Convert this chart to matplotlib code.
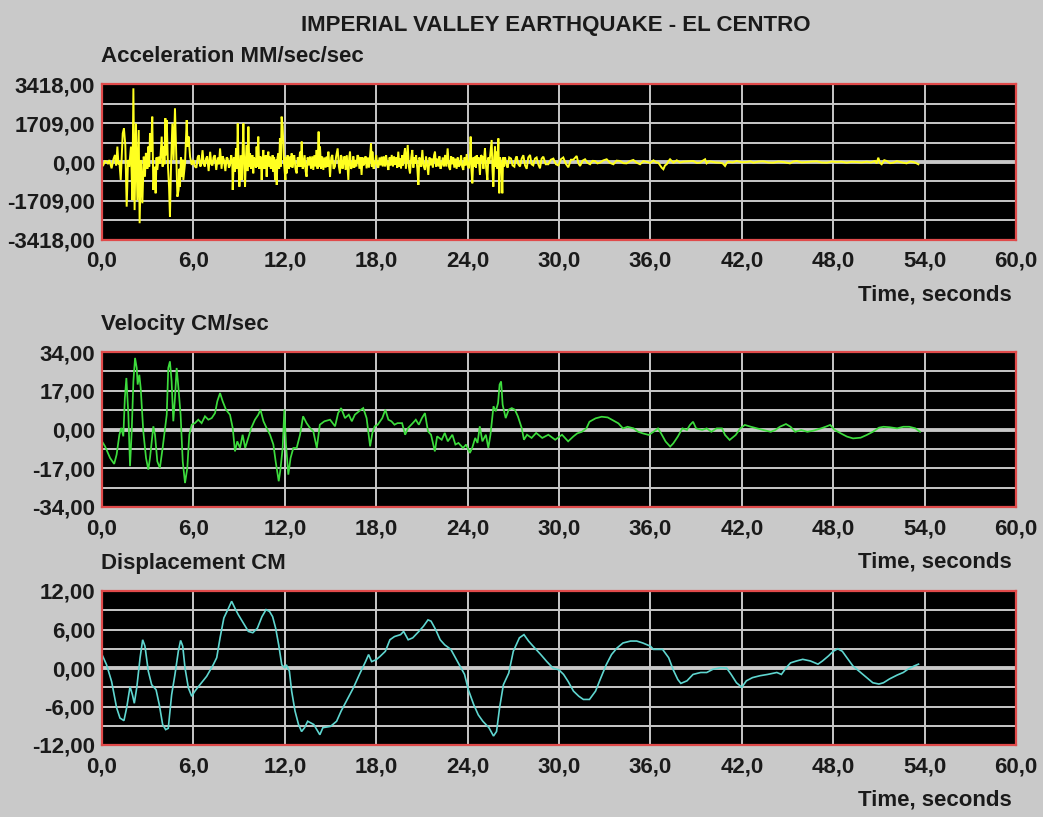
import numpy as np
import matplotlib
matplotlib.use("Agg")
import matplotlib.pyplot as plt
from matplotlib.ticker import FixedLocator

# ---------------- data ----------------
title = "IMPERIAL VALLEY EARTHQUAKE - EL CENTRO"
panel_titles = ["Acceleration MM/sec/sec", "Velocity CM/sec", "Displacement CM"]
x_label = "Time, seconds"
x_ticks = [0, 6, 12, 18, 24, 30, 36, 42, 48, 54, 60]
x_tick_labels = ["0,0", "6,0", "12,0", "18,0", "24,0", "30,0", "36,0", "42,0", "48,0", "54,0", "60,0"]
acc_ticks = [3418, 1709, 0, -1709, -3418]
acc_tick_labels = ["3418,00", "1709,00", "0,00", "-1709,00", "-3418,00"]
vel_ticks = [34, 17, 0, -17, -34]
vel_tick_labels = ["34,00", "17,00", "0,00", "-17,00", "-34,00"]
disp_ticks = [12, 6, 0, -6, -12]
disp_tick_labels = ["12,00", "6,00", "0,00", "-6,00", "-12,00"]

# acceleration, mm/s^2 : (time s, value)
acceleration = [
    (0.00, -60), (0.09, -130), (0.20, 40), (0.31, 15), (0.40, -90), (0.48, 90), (0.63, -280), (0.75, 120),
    (0.85, 310), (0.93, -150), (1.01, 680), (1.08, -100), (1.14, 15), (1.23, -790), (1.36, 1260), (1.44, 1480),
    (1.53, 750), (1.62, -1970), (1.71, 90), (1.79, -205), (1.90, 680), (1.99, -1680), (2.06, 3250), (2.14, -2120),
    (2.23, 1700), (2.32, -1680), (2.41, 1410), (2.47, -2700), (2.56, 90), (2.65, -1820), (2.74, 235), (2.82, -650),
    (2.88, 400), (2.93, 235), (2.98, -300), (3.04, 680), (3.10, -200), (3.15, 1260), (3.22, 455), (3.30, 2000),
    (3.37, -1230), (3.46, -205), (3.52, -1380), (3.58, 200), (3.63, -350), (3.72, 235), (3.81, -60), (3.92, 1120),
    (3.98, -205), (4.05, 680), (4.10, -100), (4.16, 1930), (4.21, 300), (4.25, 1850), (4.33, -205), (4.40, -1090),
    (4.46, -2410), (4.53, -205), (4.62, 1700), (4.70, 90), (4.79, 2370), (4.86, 680), (4.95, -1530), (5.03, -1230),
    (5.08, -300), (5.12, -1090), (5.18, 200), (5.23, -650), (5.30, 100), (5.34, -790), (5.45, -60), (5.56, 1850),
    (5.62, 680), (5.69, 1120), (5.78, 235), (5.89, -130), (6.00, 90), (6.10, -200), (6.20, -250), (6.28, 200),
    (6.35, 300), (6.45, -200), (6.50, -150), (6.60, 520), (6.68, -100), (6.75, -200), (6.83, 150), (6.90, 250),
    (7.00, -400), (7.10, 450), (7.18, -100), (7.25, -150), (7.32, 200), (7.40, 300), (7.50, -350), (7.60, 200),
    (7.68, -100), (7.75, 600), (7.85, -300), (7.92, 250), (8.00, 100), (8.10, -400), (8.18, 200), (8.25, 150),
    (8.33, -250), (8.40, -150), (8.48, 300), (8.55, 50), (8.58, -1230), (8.66, 200), (8.73, -430), (8.80, 600),
    (8.86, -300), (8.91, 1700), (8.97, -200), (9.02, -1090), (9.10, 300), (9.17, -790), (9.23, 400), (9.28, 1700),
    (9.34, -300), (9.39, -1090), (9.45, 200), (9.50, 750), (9.55, -400), (9.61, 1560), (9.67, -200), (9.72, 380),
    (9.78, -300), (9.82, 160), (9.88, 300), (9.93, -500), (9.98, 200), (10.04, 15), (10.10, -250), (10.15, 680),
    (10.20, -200), (10.26, 1120), (10.32, -300), (10.37, 235), (10.43, 200), (10.48, -790), (10.54, 100), (10.59, 530),
    (10.65, -300), (10.70, -60), (10.75, 300), (10.81, -650), (10.86, 100), (10.92, 455), (10.98, -200), (11.03, 235),
    (11.08, -300), (11.14, -60), (11.20, 300), (11.25, -430), (11.30, 200), (11.36, -790), (11.42, 100), (11.47, -1010),
    (11.52, 200), (11.58, 380), (11.63, -300), (11.68, 1040), (11.74, -200), (11.79, 2000), (11.86, 1560), (11.95, -60),
    (12.04, -790), (12.08, 200), (12.12, -500), (12.18, 300), (12.23, -60), (12.28, -300), (12.34, 235), (12.40, -200),
    (12.45, 380), (12.50, -250), (12.56, 90), (12.62, 300), (12.70, -300), (12.78, -500), (12.85, 200), (12.92, -200),
    (13.00, 455), (13.05, -200), (13.11, 900), (13.17, -300), (13.22, -205), (13.30, 300), (13.37, -400), (13.43, -650),
    (13.50, 200), (13.58, -150), (13.65, 235), (13.72, -300), (13.80, 250), (13.87, -350), (13.94, 300), (14.02, -200),
    (14.09, 530), (14.15, -300), (14.22, 1340), (14.27, -200), (14.31, 680), (14.38, -300), (14.45, 250), (14.53, -350),
    (14.60, 200), (14.68, -250), (14.75, 235), (14.80, -200), (14.86, 455), (14.92, -100), (14.97, -650), (15.05, 200),
    (15.12, 310), (15.20, -300), (15.29, -205), (15.37, 250), (15.47, 600), (15.55, -200), (15.62, -500), (15.68, 300),
    (15.73, 235), (15.79, -300), (15.84, -60), (15.92, 250), (15.99, -350), (16.07, 300), (16.17, -790), (16.23, 200),
    (16.28, 455), (16.35, -300), (16.43, -205), (16.50, 250), (16.56, -250), (16.61, 90), (16.70, -200), (16.77, 300),
    (16.83, 235), (16.90, -300), (16.97, 200), (17.04, -570), (17.10, 200), (17.16, -150), (17.22, -60), (17.30, 250),
    (17.37, -280), (17.45, 200), (17.52, -250), (17.60, 300), (17.66, 820), (17.71, -200), (17.75, 455), (17.83, -300),
    (17.92, -60), (18.00, 300), (18.07, -200), (18.14, -250), (18.22, 200), (18.29, -150), (18.36, 235), (18.43, -200),
    (18.50, 250), (18.58, -200), (18.65, 300), (18.72, -100), (18.80, -350), (18.88, 200), (18.95, -150), (19.02, 310),
    (19.10, -200), (19.17, 250), (19.24, -130), (19.32, 200), (19.38, -250), (19.45, 455), (19.52, -200), (19.58, 150),
    (19.63, -280), (19.70, 300), (19.76, -150), (19.82, 250), (19.89, 600), (19.95, -300), (20.01, 200), (20.07, 750),
    (20.14, -200), (20.22, -500), (20.30, 200), (20.37, 530), (20.44, -250), (20.50, 200), (20.55, -60), (20.62, 300),
    (20.70, -300), (20.77, -1010), (20.83, 200), (20.88, 90), (20.95, -200), (21.03, 530), (21.10, -150), (21.20, -350),
    (21.27, 250), (21.35, -200), (21.42, -570), (21.50, 200), (21.57, -150), (21.64, 160), (21.72, -250), (21.80, 300),
    (21.86, 455), (21.93, -200), (22.00, 150), (22.08, -200), (22.15, 250), (22.22, -300), (22.30, -130), (22.37, 200),
    (22.45, -200), (22.52, 310), (22.60, -200), (22.69, 600), (22.77, -200), (22.85, -350), (22.92, 250), (23.00, -100),
    (23.06, 200), (23.13, -250), (23.20, 150), (23.28, -300), (23.35, 200), (23.42, -200), (23.50, -130), (23.57, 300),
    (23.64, -200), (23.72, -350), (23.80, 200), (23.87, -150), (23.94, 350), (24.02, -200), (24.09, -280), (24.15, 200),
    (24.20, 1120), (24.25, -300), (24.31, -940), (24.38, 200), (24.43, -200), (24.48, 235), (24.55, -250), (24.60, 300),
    (24.66, -60), (24.73, 200), (24.81, -570), (24.88, 300), (24.97, 235), (25.04, -300), (25.09, 200), (25.14, 600),
    (25.22, -300), (25.30, -790), (25.36, 200), (25.43, -60), (25.50, 400), (25.58, 970), (25.63, -300), (25.69, -1090),
    (25.75, 200), (25.80, 680), (25.86, -200), (25.91, 455), (25.96, -300), (26.02, 1040), (26.08, -1380), (26.13, 200),
    (26.17, 90), (26.23, -300), (26.28, -1380), (26.33, 200), (26.37, -205), (26.42, 100), (26.46, 200), (26.55, -150),
    (26.63, -250), (26.73, 200), (26.85, 150), (26.95, -150), (27.07, -205), (27.15, 150), (27.22, 250), (27.33, -100),
    (27.44, -200), (27.55, 150), (27.66, 300), (27.77, -150), (27.88, -300), (27.98, 200), (28.10, 310), (28.20, -100),
    (28.31, -150), (28.42, 150), (28.53, 200), (28.64, -100), (28.75, -280), (28.86, 150), (28.97, 235), (29.13, -100),
    (29.30, -100), (29.46, 100), (29.63, 150), (29.80, -100), (29.96, -150), (30.12, 120), (30.28, 200), (30.45, -80),
    (30.61, -235), (30.78, 100), (30.94, 100), (31.16, 265), (31.27, -50), (31.38, -175), (31.55, 60), (31.71, 120),
    (31.88, -40), (32.04, -100), (32.20, 50), (32.36, 45), (32.52, -60), (32.69, -30), (32.90, 70), (33.13, 120),
    (33.35, -40), (33.57, -100), (33.78, 60), (34.00, 45), (34.22, -50), (34.44, -60), (34.66, 40), (34.88, 90),
    (35.10, -30), (35.32, -100), (35.54, 40), (35.76, 0), (36.00, -40), (36.20, 75), (36.38, -20), (36.52, -30),
    (36.74, -250), (36.85, -320), (36.96, -150), (37.07, -100), (37.18, 30), (37.29, 120), (37.51, -30), (37.73, 75),
    (37.95, -20), (38.16, 15), (38.49, 30), (38.82, 45), (39.04, -40), (39.26, -30), (39.42, 50), (39.59, 120),
    (39.69, -60), (39.85, 30), (40.02, 15), (40.30, -20), (40.57, -30), (40.75, -60), (40.90, -175), (41.01, -40),
    (41.12, 15), (41.40, -20), (41.66, 45), (42.00, -10), (42.32, 0), (42.55, 30), (42.76, -30), (43.10, 20),
    (43.41, 30), (43.75, -20), (44.07, -30), (44.40, 20), (44.73, 0), (44.95, -30), (45.16, -60), (45.38, 20),
    (45.60, 45), (45.93, -20), (46.26, 0), (46.60, 20), (46.91, 30), (47.24, -20), (47.57, -30), (47.90, 20),
    (48.23, 0), (48.55, 15), (48.88, -30), (49.20, 10), (49.54, 0), (49.87, -20), (50.20, 15), (50.47, -20),
    (50.74, 45), (50.85, -60), (50.96, 190), (51.07, -40), (51.18, -100), (51.35, 80), (51.51, 45), (51.73, -50),
    (51.95, -30), (52.17, 40), (52.39, 0), (52.60, -30), (52.82, -60), (53.04, 20), (53.26, 0), (53.45, -50),
    (53.59, -100),
]

# velocity, cm/s : (time s, value)
velocity = [
    (0.00, -5.2), (0.20, -7.4), (0.53, -12.5), (0.80, -15.1), (0.96, -11), (1.14, -2.3), (1.27, 0.7), (1.40, -3),
    (1.50, 13.8), (1.60, 22.6), (1.73, 6.5), (1.84, -16.1), (1.95, -0.8), (2.06, 21.1), (2.17, 31.4), (2.28, 27),
    (2.34, 19.7), (2.45, 24), (2.54, 18.2), (2.71, -0.8), (2.89, -12.5), (3.04, -17.6), (3.15, -12.5), (3.37, 1.4),
    (3.48, -2.3), (3.63, -14), (3.80, -16.9), (3.98, -8.1), (4.14, 0.7), (4.25, 6.5), (4.35, 27), (4.46, 29.9),
    (4.57, 21.1), (4.68, 3.6), (4.79, 13.8), (4.90, 27), (5.00, 19.7), (5.16, 6.5), (5.30, -14), (5.45, -23.5),
    (5.60, -16.9), (5.73, -2.3), (5.89, 2.1), (6.10, 2.8), (6.32, 4.3), (6.54, 2.8), (6.76, 5.8), (6.98, 4.3),
    (7.20, 5.0), (7.42, 7.2), (7.57, 12.4), (7.75, 16), (7.92, 12.4), (8.14, 8.7), (8.40, 6.5), (8.58, 0.7),
    (8.73, -9.6), (8.88, -5.2), (9.06, -8.1), (9.23, -2.3), (9.40, -8.1), (9.60, -3.7), (9.80, 0.7), (10.04, 4.3),
    (10.26, 6.5), (10.40, 8.7), (10.60, 3.6), (10.80, 0.7), (11.03, -2.3), (11.25, -6.6), (11.40, -14), (11.60, -22.7),
    (11.70, -18.3), (11.86, -8.1), (11.97, 8.7), (12.08, -6.6), (12.23, -19.8), (12.38, -12.5), (12.56, -8.1),
    (12.78, -8.1), (13.00, -2.3), (13.20, 5.8), (13.43, 2.8), (13.65, 0.7), (13.87, -0.8), (14.10, -8.1), (14.30, 2.1),
    (14.60, 3.6), (14.97, 4.3), (15.30, 1.4), (15.50, 7.2), (15.70, 9.4), (15.95, 5.0), (16.20, 6.5), (16.40, 3.6),
    (16.60, 6.5), (17.00, 8.7), (17.15, 9.4), (17.37, 5.0), (17.60, -7.4), (17.75, -1.5), (17.90, 1.4), (18.10, 2.1),
    (18.40, 5.0), (18.60, 8.7), (18.80, 4.3), (19.00, 3.6), (19.20, 2.1), (19.40, 2.8), (19.70, 2.8), (19.90, -2.3),
    (20.10, 0.7), (20.40, 2.8), (20.60, 4.3), (20.80, 2.1), (21.00, 5.0), (21.20, 7.2), (21.40, -0.8), (21.60, -2.3),
    (21.85, -9.6), (22.00, -3), (22.30, -4.5), (22.50, -1.5), (22.70, -5.2), (23.00, -2.3), (23.20, -6.6),
    (23.40, -5.9), (23.70, -8.1), (23.90, -6.6), (24.15, -10.3), (24.30, -8.1), (24.50, -3.7), (24.65, -5.9),
    (24.80, 1.4), (24.97, -5.2), (25.20, -2.3), (25.36, -8.1), (25.50, -2.3), (25.70, 10.2), (25.85, 8.0),
    (26.00, 11.6), (26.10, 19.7), (26.20, 21.1), (26.30, 10.9), (26.50, 5.0), (26.70, 8.7), (26.90, 9.4),
    (27.10, 8.7), (27.30, 5.8), (27.55, 0.7), (27.70, -4.5), (27.90, -2.3), (28.20, -3.7), (28.50, -1.5),
    (28.90, -3.7), (29.30, -2.3), (29.75, -4.5), (30.20, -2.3), (30.60, -5.2), (30.95, -3), (31.20, -1.7),
    (31.50, -1), (31.80, 0.5), (32.00, 3.4), (32.40, 4.9), (32.80, 5.6), (33.20, 5.3), (33.50, 4.2), (33.90, 2.7),
    (34.20, 0.5), (34.50, 1.2), (34.90, 0.5), (35.20, -1), (35.50, -1.7), (35.90, -2.4), (36.20, -1), (36.50, 0.5),
    (36.70, -1.7), (37.00, -5.3), (37.30, -7.5), (37.50, -6.1), (37.80, -3.1), (38.10, 0.5), (38.40, -0.2),
    (38.60, 2), (38.80, 3.4), (39.00, 0.5), (39.40, -0.2), (39.70, 0.5), (40.00, -1), (40.35, 0.5), (40.70, 0.5),
    (40.90, -2.4), (41.20, -4.6), (41.60, -2.4), (41.90, 0.5), (42.20, 2), (42.60, 1.2), (43.00, 0.5),
    (43.40, -0.2), (43.90, -1), (44.20, -0.2), (44.50, 1.2), (44.90, 2.4), (45.20, 1.2), (45.50, -1), (45.90, -0.2),
    (46.30, -1), (46.70, -0.5), (47.20, 0.5), (47.50, 1.2), (47.80, 2), (48.10, -0.2), (48.50, -1.7), (48.90, -3.1),
    (49.30, -3.9), (49.80, -3.6), (50.20, -2.4), (50.60, -1), (51.00, 0.8), (51.30, 1.2), (51.70, 1), (52.20, 0.5),
    (52.60, 1.2), (53.00, 1.2), (53.40, 0.5), (53.70, -1),
]

# displacement, cm : (time s, value)
displacement = [
    (0.00, 2.1), (0.30, 0.5), (0.63, -2.1), (0.96, -6.2), (1.18, -7.8), (1.44, -8.2), (1.62, -6.2), (1.84, -2.9),
    (2.00, -4.2), (2.12, -5.5), (2.28, -3.1), (2.50, 1.6), (2.67, 4.4), (2.82, 3.4), (3.04, -0.5), (3.26, -2.6),
    (3.55, -3.4), (3.76, -5.7), (3.98, -8.8), (4.18, -9.6), (4.35, -9.4), (4.57, -4.2), (4.79, -1.0), (5.01, 2.6),
    (5.16, 4.3), (5.30, 3.4), (5.45, 0.0), (5.67, -3.1), (5.89, -4.4), (6.10, -3.6), (6.43, -2.6), (6.87, -1.3),
    (7.30, 0.5), (7.53, 1.6), (7.75, 4.7), (8.00, 7.8), (8.30, 9.3), (8.51, 10.4), (8.73, 9.3), (8.95, 8.3),
    (9.28, 7.0), (9.61, 5.7), (9.90, 5.5), (10.20, 6.2), (10.50, 8.0), (10.77, 9.1), (11.00, 8.8), (11.20, 8.0),
    (11.40, 6.2), (11.60, 3.6), (11.80, 0.5), (12.00, 0.0), (12.10, 0.5), (12.30, -0.5), (12.45, -3.6),
    (12.67, -6.7), (12.90, -8.8), (13.10, -9.9), (13.30, -9.3), (13.50, -8.3), (13.90, -8.8), (14.10, -9.6),
    (14.30, -10.4), (14.50, -9.3), (15.00, -9.1), (15.40, -8.3), (15.70, -6.7), (16.10, -4.9), (16.50, -3.1),
    (16.90, -1.0), (17.30, 1.0), (17.50, 2.1), (17.70, 1.0), (18.00, 1.3), (18.25, 1.8), (18.60, 2.6), (18.90, 4.4),
    (19.20, 4.9), (19.60, 5.2), (19.80, 5.7), (20.10, 4.4), (20.40, 4.7), (20.80, 5.7), (21.10, 6.5), (21.40, 7.5),
    (21.60, 7.3), (21.90, 6.0), (22.20, 4.4), (22.50, 3.6), (22.90, 2.9), (23.20, 1.6), (23.50, 0.3), (23.80, -1.0),
    (24.05, -3.4), (24.40, -5.7), (24.70, -7.3), (25.00, -8.3), (25.40, -9.3), (25.70, -10.6), (25.90, -9.9),
    (26.10, -6.2), (26.35, -2.6), (26.70, -0.8), (27.00, 2.6), (27.40, 4.7), (27.70, 5.2), (28.00, 4.2),
    (28.30, 3.4), (28.80, 2.1), (29.20, 1.0), (29.60, 0.0), (30.00, -0.3), (30.30, -1.0), (30.60, -2.1),
    (30.95, -3.6), (31.30, -4.4), (31.60, -4.9), (32.00, -4.9), (32.40, -3.6), (32.70, -1.8), (33.10, 0.5),
    (33.45, 2.1), (33.80, 3.1), (34.20, 3.9), (34.70, 4.2), (35.10, 4.2), (35.50, 3.9), (36.00, 3.4), (36.20, 2.9),
    (36.80, 2.9), (37.20, 1.6), (37.50, -0.3), (37.80, -1.8), (38.00, -2.4), (38.40, -2.0), (38.80, -1.0),
    (39.30, -0.7), (39.70, -0.7), (40.10, -0.2), (40.60, 0.05), (41.00, 0.0), (41.30, -1.0), (41.65, -2.3),
    (42.00, -3.0), (42.30, -2.0), (42.70, -1.5), (43.20, -1.2), (43.70, -1.0), (44.30, -0.7), (44.60, -1.0),
    (44.90, 0.0), (45.20, 0.8), (45.60, 1.1), (46.00, 1.35), (46.50, 1.1), (47.00, 0.6), (47.30, 1.1), (47.70, 1.9),
    (48.00, 2.6), (48.30, 3.0), (48.60, 2.6), (48.90, 1.6), (49.30, 0.3), (49.80, -0.7), (50.20, -1.5),
    (50.60, -2.3), (51.00, -2.5), (51.30, -2.3), (51.70, -1.7), (52.20, -1.1), (52.60, -0.7), (52.90, -0.2),
    (53.30, 0.3), (53.60, 0.6),
]

# ---------------- styling ----------------
W, H = 1043, 817
BG = "#c9c9c9"
TEXT = "#1a1a1a"
FONT = "Liberation Sans"
FS = 16
plt.rcParams["font.family"] = [FONT, "DejaVu Sans"]

fig = plt.figure(figsize=(W / 100, H / 100), dpi=100, facecolor=BG)

def px_rect(left, top, right, bottom):
    return [left / W, 1 - bottom / H, (right - left) / W, (bottom - top) / H]

panels = [
    dict(rect=px_rect(102, 84.5, 1016, 239.5), data=acceleration, color="#ffff20", lim=3418,
         ticks=acc_ticks, labels=acc_tick_labels, title_y=57, xlab_y=295, lw=1.4),
    dict(rect=px_rect(102, 352, 1016, 507), data=velocity, color="#3ddc3d", lim=34,
         ticks=vel_ticks, labels=vel_tick_labels, title_y=325, xlab_y=562, lw=1.25),
    dict(rect=px_rect(102, 591, 1016, 745), data=displacement, color="#5fd6d0", lim=12,
         ticks=disp_ticks, labels=disp_tick_labels, title_y=563, xlab_y=800, lw=1.2),
]

fig.text(556 / W, 1 - 25 / H, title, ha="center", va="center", fontsize=FS,
         fontweight="bold", color=TEXT)

for p, name in zip(panels, panel_titles):
    ax = fig.add_axes(p["rect"])
    ax.set_facecolor("black")
    t = np.array([d[0] for d in p["data"]])
    v = np.array([d[1] for d in p["data"]])
    lim = p["lim"]
    ax.set_xlim(0, 60)
    ax.set_ylim(-lim, lim)
    # grid
    ax.xaxis.set_major_locator(FixedLocator(x_ticks))
    ax.set_xticklabels(x_tick_labels)
    ax.yaxis.set_major_locator(FixedLocator(p["ticks"]))
    ax.set_yticklabels(p["labels"])
    ax.yaxis.set_minor_locator(FixedLocator([lim * 0.75, lim * 0.25, -lim * 0.25, -lim * 0.75]))
    ax.grid(True, which="both", color="#c8c8c8", lw=1.4, zorder=1)
    ax.axhline(0, color="#e6e6e6", lw=2.6, zorder=1.5)
    ax.plot(t, v, color=p["color"], lw=p["lw"], zorder=3, solid_joinstyle="miter")
    for s in ax.spines.values():
        s.set_color("#e04a4a")
        s.set_linewidth(1.6)
        s.set_zorder(4)
    ax.tick_params(which="both", length=0)
    ax.tick_params(axis="y", pad=5, labelsize=FS, labelcolor=TEXT)
    ax.tick_params(axis="x", pad=8, labelsize=FS, labelcolor=TEXT)
    for lab in ax.get_xticklabels() + ax.get_yticklabels():
        lab.set_fontweight("bold")
    fig.text(101 / W, 1 - p["title_y"] / H, name, ha="left", va="center", fontsize=FS,
             fontweight="bold", color=TEXT)
    fig.text(1012 / W, 1 - p["xlab_y"] / H, x_label, ha="right", va="center", fontsize=FS,
             fontweight="bold", color=TEXT)

fig.savefig("out.png", dpi=100, facecolor=BG)
